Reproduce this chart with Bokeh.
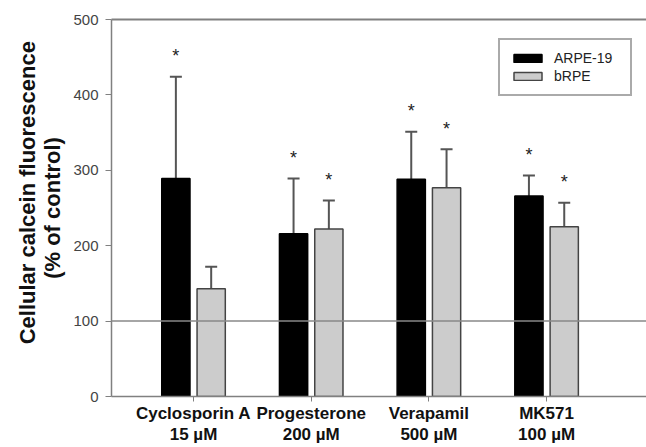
from bokeh.plotting import figure
from bokeh.models import (ColumnDataSource, Span, Whisker, TeeHead, FixedTicker,
                          LinearAxis, Range1d, Legend, LegendItem)
from bokeh.embed import file_html
from bokeh.resources import INLINE
from bokeh.core.properties import value

categories = ["Cyclosporin A\n15 µM", "Progesterone\n200 µM", "Verapamil\n500 µM", "MK571\n100 µM"]
arpe = [289, 216, 288, 266]
arpe_err = [135, 73, 63, 27]
brpe = [143, 222, 277, 225]
brpe_err = [29, 38, 51, 32]
arpe_sig = [True, True, True, True]
brpe_sig = [False, True, True, True]
y_ticks = [0, 100, 200, 300, 400, 500]

FONT = "Liberation Sans"
xs = list(range(len(categories)))
off = 0.15
bw = 0.24

def src(vals, errs, sig, shift):
    return ColumnDataSource(dict(
        x=[i + shift for i in xs],
        top=vals,
        upper=[v + e for v, e in zip(vals, errs)],
        star_y=[v + e + 27 for v, e in zip(vals, errs)],
        star=["*" if s else "" for s in sig],
    ))

s1 = src(arpe, arpe_err, arpe_sig, -off)
s2 = src(brpe, brpe_err, brpe_sig, off)

p = figure(width=646, height=447, output_backend="svg", toolbar_location=None,
           x_range=Range1d(-0.697, 3.849), y_range=Range1d(0, 500),
           min_border_left=111, min_border_right=0, min_border_top=19, min_border_bottom=50)
p.outline_line_color = None
p.grid.visible = False
p.background_fill_color = "white"
p.border_fill_color = "white"

r1 = p.vbar(x="x", top="top", width=bw, source=s1, fill_color="black", line_color="black", line_width=1.5)
r2 = p.vbar(x="x", top="top", width=bw, source=s2, fill_color="#cccccc", line_color="#444444", line_width=1.5)

for s in (s1, s2):
    w = Whisker(base="x", lower="top", upper="upper", source=s, line_color="#555555", line_width=2,
                lower_head=None, upper_head=TeeHead(size=12, line_color="#555555", line_width=2))
    p.add_layout(w)
    p.text(x="x", y="star_y", text="star", source=s, text_align="center", text_baseline="middle",
           text_font=value(FONT), text_font_size="18px", text_color="#222222")

p.add_layout(Span(location=100, dimension="width", line_color="#888888", line_width=1.5))

# axes
ax = p.xaxis[0]
ax.ticker = FixedTicker(ticks=xs)
ax.major_label_overrides = {i: c for i, c in enumerate(categories)}
ax.major_label_text_font = FONT
ax.major_label_text_font_style = "bold"
ax.major_label_text_font_size = "17px"
ax.major_label_text_line_height = 1.15
ax.major_label_text_color = "#111111"
ax.axis_line_color = "#808080"
ax.axis_line_width = 1.5
ax.major_tick_line_color = "#808080"
ax.major_tick_out = 5
ax.major_tick_in = 0
ax.minor_tick_line_color = None
ax.major_label_standoff = 2

ay = p.yaxis[0]
ay.ticker = FixedTicker(ticks=y_ticks)
ay.major_label_text_font = FONT
ay.major_label_text_font_size = "15px"
ay.major_label_text_color = "#444444"
ay.axis_line_color = "#808080"
ay.axis_line_width = 1.5
ay.major_tick_line_color = "#808080"
ay.major_tick_out = 6
ay.major_tick_in = 0
ay.minor_tick_line_color = None
ay.major_label_standoff = 7
ay.axis_label = "\u00a0" * 5 + "Cellular calcein fluorescence\n(% of control)"
ay.axis_label_text_font = FONT
ay.axis_label_text_font_style = "bold"
ay.axis_label_text_font_size = "22px"
ay.axis_label_text_color = "#111111"
ay.axis_label_text_line_height = 1.0
ay.axis_label_standoff = 5

top_axis = LinearAxis(axis_line_color="#808080", axis_line_width=2, major_tick_line_color=None,
                      minor_tick_line_color=None, ticker=FixedTicker(ticks=[]))
p.add_layout(top_axis, "above")

legend = Legend(items=[LegendItem(label="ARPE-19", renderers=[r1]),
                       LegendItem(label="bRPE", renderers=[r2])],
                location=(387, 300))
legend.label_text_font = FONT
legend.label_text_font_size = "14px"
legend.label_text_color = "#222222"
legend.glyph_width = 35
legend.glyph_height = 10
legend.label_height = 10
legend.label_width = 66
legend.border_line_color = "#555555"
legend.border_line_width = 2
legend.padding = 10
legend.spacing = 2
legend.label_standoff = 9
legend.margin = 0
p.add_layout(legend)

open("out.html", "w").write(file_html(p, INLINE))
